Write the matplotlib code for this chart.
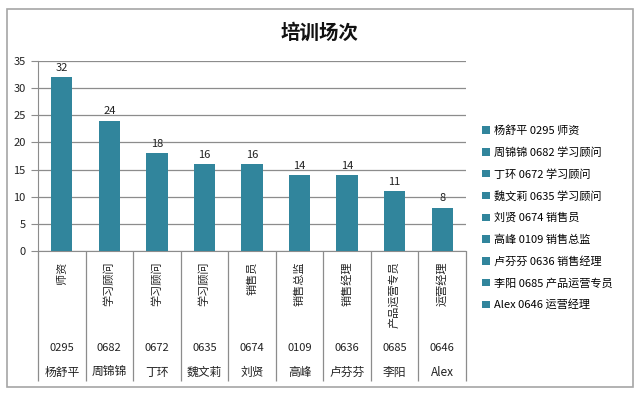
import matplotlib
matplotlib.use("Agg")
import matplotlib.pyplot as plt
from matplotlib.patches import Rectangle, Patch

plt.rcParams['font.family'] = ['Noto Sans CJK SC', 'DejaVu Sans']

# data
names = ['杨舒平', '周锦锦', '丁环', '魏文莉', '刘贤', '高峰', '卢芬芬', '李阳', 'Alex']
codes = ['0295', '0682', '0672', '0635', '0674', '0109', '0636', '0685', '0646']
titles = ['师资', '学习顾问', '学习顾问', '学习顾问', '销售员', '销售总监', '销售经理', '产品运营专员', '运营经理']
counts = [32, 24, 18, 16, 16, 14, 14, 11, 8]

bar_color = '#31859C'
grid_color = '#8C8C8C'
W, H = 640, 395

fig = plt.figure(figsize=(6.4, 3.95), dpi=100)
fig.patch.set_facecolor('white')

# outer chart border
fig.patches.append(Rectangle((7 / W, 1 - 387 / H), 626 / W, 378 / H,
                             transform=fig.transFigure, fill=False,
                             edgecolor='#A6A6A6', lw=1.2))

ax = fig.add_axes([38 / W, 1 - 251 / H, 428 / W, 190 / H])
x = list(range(len(counts)))
bars = ax.bar(x, counts, width=0.45, color=bar_color, zorder=3)
for xi, v in zip(x, counts):
    ax.text(xi, v + 0.8, str(v), ha='center', va='bottom', fontsize=8, color='#222222')

ax.set_xlim(-0.5, len(counts) - 0.5)
ax.set_ylim(0, 35)
ax.set_yticks(range(0, 36, 5))
ax.yaxis.grid(True, color=grid_color, lw=0.9, zorder=0)
ax.set_xticks([])
ax.tick_params(axis='y', labelsize=8, length=5, color=grid_color, colors='#222222', pad=4)
for s in ['top', 'right']:
    ax.spines[s].set_visible(False)
ax.spines['left'].set_color(grid_color)
ax.spines['bottom'].set_color(grid_color)

# multi-level category labels
tr = ax.get_xaxis_transform()
ax.vlines([i - 0.5 for i in range(len(counts) + 1)], -0.684, 0, transform=tr,
          color=grid_color, lw=0.9, clip_on=False)
for xi, t, c, n in zip(x, titles, codes, names):
    ax.text(xi, -0.055, t, transform=tr, rotation=90, ha='center', va='top',
            fontsize=8, color='#222222')
    ax.text(xi, -0.51, c, transform=tr, ha='center', va='center', fontsize=8, color='#222222')
    ax.text(xi, -0.64, n, transform=tr, ha='center', va='center', fontsize=8.5, color='#222222')

fig.text(0.5, 1 - 33 / H, '培训场次', ha='center', va='center', fontsize=14,
         fontweight='bold', color='#111111')

handles = [Patch(facecolor=bar_color, edgecolor='none') for _ in names]
labels = [f'{n} {c} {t}' for n, c, t in zip(names, codes, titles)]
fig.legend(handles, labels, loc='upper left', bbox_to_anchor=(478 / W, 1 - 121 / H),
           frameon=False, fontsize=8, handlelength=0.65, handleheight=0.65,
           handletextpad=0.4, labelspacing=1.0, borderaxespad=0)

fig.savefig('out.png', dpi=100)
